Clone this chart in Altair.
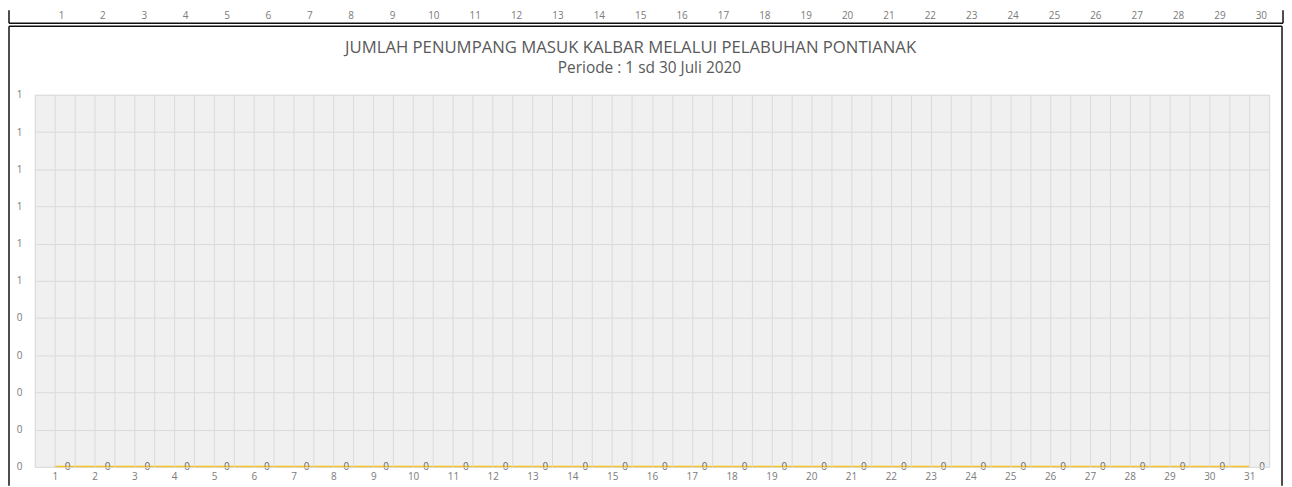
import altair as alt
import pandas as pd

# ---- data ----
hari = [1, 2, 3, 4, 5, 6, 7, 8, 9, 10, 11, 12, 13, 14, 15, 16,
        17, 18, 19, 20, 21, 22, 23, 24, 25, 26, 27, 28, 29, 30, 31]
penumpang = [0, 0, 0, 0, 0, 0, 0, 0, 0, 0, 0, 0, 0, 0, 0, 0,
             0, 0, 0, 0, 0, 0, 0, 0, 0, 0, 0, 0, 0, 0, 0]
hari_atas = [1, 2, 3, 4, 5, 6, 7, 8, 9, 10, 11, 12, 13, 14, 15,
             16, 17, 18, 19, 20, 21, 22, 23, 24, 25, 26, 27, 28, 29, 30]
y_ticks = [0.0, 0.1, 0.2, 0.3, 0.4, 0.5, 0.6, 0.7, 0.8, 0.9, 1.0]
x_grid = [i / 2 for i in range(1, 64)]
judul = "JUMLAH PENUMPANG MASUK KALBAR MELALUI PELABUHAN PONTIANAK"
subjudul = "Periode : 1 sd 30 Juli 2020"

W, H = 1241, 374
FONT = "Open Sans"
AXIS_COL = "#7a7a7a"

df = pd.DataFrame({"hari": hari, "penumpang": penumpang})
df_top = pd.DataFrame({"hari_atas": hari_atas})
one = pd.DataFrame({"k": [0]})

x_enc = alt.X(
    "hari:Q",
    scale=alt.Scale(domain=[0.5, 31.5], nice=False, zero=False),
    axis=alt.Axis(
        values=x_grid,
        labelExpr="datum.value % 1 === 0 ? format(datum.value, 'd') : ''",
        labelOverlap=False, labelFlush=False,
        grid=True, gridColor="#dadada", gridWidth=1, zindex=1,
        ticks=False, domain=False, title=None,
        labelPadding=5, labelFontSize=10, labelColor=AXIS_COL, labelFont=FONT,
    ),
)
y_enc = alt.Y(
    "penumpang:Q",
    scale=alt.Scale(domain=[0, 1], nice=False),
    axis=alt.Axis(
        values=y_ticks,
        labelExpr="round(datum.value)",
        grid=True, gridColor="#dadada", gridWidth=1, zindex=1,
        ticks=False, domain=False, title=None,
        labelPadding=13, labelFontSize=10, labelColor=AXIS_COL, labelFont=FONT,
    ),
)

# plot-area background (Excel hatched fill approximated by a light grey)
plot_bg = alt.Chart(one).mark_rect(color="#f0f0f0").encode(
    x=alt.value(0), x2=alt.value(W), y=alt.value(0), y2=alt.value(H)
)

line = alt.Chart(df).mark_line(color="#FFC000", strokeWidth=2).encode(x=x_enc, y=y_enc)
labels = alt.Chart(df).mark_text(
    dx=13, align="center", baseline="middle", fontSize=10, color="#6a6a6a", font=FONT
).encode(x=x_enc, y=y_enc, text=alt.Text("penumpang:Q"))
main = alt.layer(line, labels)

top_labels = alt.Chart(df_top).mark_text(
    align="center", baseline="middle", fontSize=10, color=AXIS_COL, font=FONT
).encode(
    x=alt.X("hari_atas:Q", scale=alt.Scale(domain=[0.5, 30.5], range=[6, 1254], nice=False, zero=False), axis=None),
    y=alt.value(-79),
    text=alt.Text("hari_atas:Q"),
)

title1 = alt.Chart(one).mark_text(
    align="center", baseline="middle", fontSize=16.8, color="#595959", font=FONT
).encode(x=alt.value(599), y=alt.value(-47), text=alt.value(judul))
title2 = alt.Chart(one).mark_text(
    align="center", baseline="middle", fontSize=15.5, color="#595959", font=FONT
).encode(x=alt.value(618), y=alt.value(-27), text=alt.value(subjudul))

# chart-area borders (Excel frames)
b = dict(color="#111111", strokeWidth=1.5)
main_top = alt.Chart(one).mark_rule(**b).encode(x=alt.value(-26), x2=alt.value(1254), y=alt.value(-69))
main_left = alt.Chart(one).mark_rule(**b).encode(x=alt.value(-26), y=alt.value(-69), y2=alt.value(393))
main_right = alt.Chart(one).mark_rule(**b).encode(x=alt.value(1254), y=alt.value(-69), y2=alt.value(393))
strip_bottom = alt.Chart(one).mark_rule(**b).encode(x=alt.value(-26), x2=alt.value(1255), y=alt.value(-72))
strip_left = alt.Chart(one).mark_rule(**b).encode(x=alt.value(-26), y=alt.value(-85), y2=alt.value(-72))
strip_right = alt.Chart(one).mark_rule(**b).encode(x=alt.value(1255), y=alt.value(-85), y2=alt.value(-72))

chart = alt.layer(
    plot_bg, main, top_labels, title1, title2,
    main_top, main_left, main_right, strip_bottom, strip_left, strip_right,
).resolve_scale(x="independent").properties(
    width=W, height=H, padding=0,
).configure_view(
    stroke=None,
).configure(background="white")

chart.save("out.html", embed_options={"renderer": "svg", "actions": False})
